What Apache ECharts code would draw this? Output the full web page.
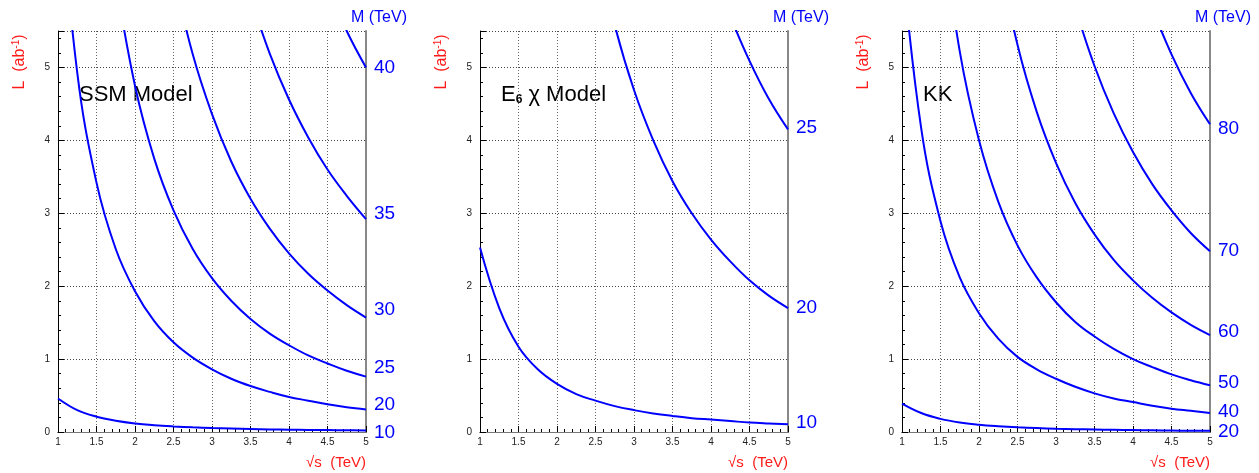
<!DOCTYPE html>
<html>
<head>
<meta charset="utf-8">
<script src="https://cdn.jsdelivr.net/npm/echarts@6/dist/echarts.min.js"></script>
<style>
  html, body { margin: 0; padding: 0; background: #fff; }
  #chart { width: 1259px; height: 473px; }
</style>
</head>
<body>
<div id="chart"></div>
<script>
// sqrt(s) in TeV, same sampling for every curve
const sqrtS = [1, 1.25, 1.5, 1.75, 2, 2.25, 2.5, 2.75, 3, 3.25, 3.5, 3.75, 4, 4.25, 4.5, 4.75, 5];

// luminosity L (ab^-1), one list per mass M (TeV)
// null = far above the top of the frame
const ssmMass = ['10', '20', '25', '30', '35', '40'];
const ssmL10 = [0.46, 0.30, 0.21, 0.155, 0.118, 0.094, 0.077, 0.064, 0.054, 0.047, 0.041, 0.036, 0.032, 0.029, 0.026, 0.024, 0.022];
const ssmL20 = [7.7, 4.93, 3.42, 2.51, 1.93, 1.52, 1.23, 1.02, 0.86, 0.73, 0.63, 0.55, 0.48, 0.43, 0.38, 0.34, 0.31];
const ssmL25 = [null, null, null, 6.2, 4.75, 3.75, 3.04, 2.51, 2.11, 1.80, 1.55, 1.35, 1.19, 1.05, 0.94, 0.84, 0.76];
const ssmL30 = [null, null, null, null, null, null, 6.27, 5.18, 4.36, 3.71, 3.2, 2.79, 2.45, 2.17, 1.94, 1.74, 1.57];
const ssmL35 = [null, null, null, null, null, null, null, null, null, null, 5.96, 5.19, 4.56, 4.04, 3.6, 3.24, 2.92];
const ssmL40 = [null, null, null, null, null, null, null, null, null, null, null, null, null, null, 6.12, 5.5, 5.0];

const e6Mass = ['10', '20', '25'];
const e6L10 = [2.53, 1.70, 1.17, 0.86, 0.66, 0.52, 0.43, 0.355, 0.30, 0.255, 0.22, 0.19, 0.17, 0.15, 0.13, 0.117, 0.106];
const e6L20 = [null, null, null, null, null, null, 6.75, 5.58, 4.69, 4.0, 3.44, 3.0, 2.64, 2.34, 2.08, 1.87, 1.70];
const e6L25 = [null, null, null, null, null, null, null, null, null, null, null, null, null, 5.70, 5.09, 4.57, 4.15];

const kkMass = ['20', '40', '50', '60', '70', '80'];
const kkL20 = [0.39, 0.26, 0.18, 0.13, 0.10, 0.08, 0.065, 0.054, 0.045, 0.039, 0.034, 0.03, 0.026, 0.023, 0.02, 0.018, 0.017];
const kkL40 = [6.5, 4.16, 2.89, 2.12, 1.63, 1.28, 1.03, 0.86, 0.73, 0.62, 0.53, 0.46, 0.41, 0.36, 0.32, 0.29, 0.26];
const kkL50 = [null, null, 7.1, 5.22, 4.0, 3.16, 2.56, 2.12, 1.78, 1.51, 1.31, 1.14, 1.0, 0.89, 0.79, 0.71, 0.64];
const kkL60 = [null, null, null, null, null, 6.56, 5.31, 4.39, 3.69, 3.14, 2.71, 2.36, 2.08, 1.84, 1.64, 1.47, 1.33];
const kkL70 = [null, null, null, null, null, null, null, null, null, 5.82, 5.02, 4.37, 3.84, 3.40, 3.04, 2.73, 2.48];
const kkL80 = [null, null, null, null, null, null, null, null, null, null, null, null, null, 5.81, 5.18, 4.65, 4.22];

// layout
const FONT = "'Liberation Sans', Arial, sans-serif";
const BLUE = '#0000ff';
const RED = '#ff1a1a';
const PANEL_LEFT = [58, 480, 902];
const PLOT_W = 308;
const PLOT_TOP = 31;
const PLOT_H = 401;

const panels = [
  { title: 'SSM Model', mass: ssmMass, curves: [ssmL10, ssmL20, ssmL25, ssmL30, ssmL35, ssmL40], labelDy: [2, -5, -9, -8, -5, 0] },
  { title: 'E{sub|6} χ Model', mass: e6Mass, curves: [e6L10, e6L20, e6L25], labelDy: [-2, 0, -2] },
  { title: 'KK', mass: kkMass, curves: [kkL20, kkL40, kkL50, kkL60, kkL70, kkL80], labelDy: [1, -1, -3, -3, 0, 4] }
];

var grid = [], xAxis = [], yAxis = [], series = [], graphic = [];

panels.forEach(function (p, i) {
  var L = PANEL_LEFT[i];
  grid.push({ left: L, top: PLOT_TOP, width: PLOT_W, height: PLOT_H });

  // bottom axis: labels, ticks, minor ticks and dotted grid
  xAxis.push({
    gridIndex: i, type: 'value', position: 'bottom', min: 1, max: 5, interval: 0.5,
    axisLine: { lineStyle: { color: '#000', width: 1 } },
    axisTick: { inside: true, length: 6, lineStyle: { color: '#000' } },
    minorTick: { show: true, splitNumber: 5, length: 3, lineStyle: { color: '#000' } },
    axisLabel: { margin: 5, fontSize: 10, color: '#222', fontFamily: FONT },
    splitLine: { show: true, lineStyle: { type: [1, 2], color: '#666' } }
  });
  // top frame line
  xAxis.push({
    gridIndex: i, type: 'value', position: 'top', min: 1, max: 5,
    axisLine: { lineStyle: { color: '#777', width: 1 } },
    axisTick: { show: false }, axisLabel: { show: false }, splitLine: { show: false }
  });

  // left axis: labels, major ticks, dotted grid
  yAxis.push({
    gridIndex: i, type: 'value', position: 'left', min: 0, max: 5.5, interval: 1,
    axisLine: { show: true, lineStyle: { color: '#000', width: 1 } },
    axisTick: { show: true, inside: true, length: 6, lineStyle: { color: '#000' } },
    axisLabel: {
      margin: 8, fontSize: 10, color: '#222', fontFamily: FONT,
      formatter: function (v) { return v > 5 ? '' : String(v); }
    },
    splitLine: { show: true, lineStyle: { type: [1, 2], color: '#444' } }
  });
  // left minor ticks every 0.2
  yAxis.push({
    gridIndex: i, type: 'value', position: 'left', min: 0, max: 5.5, interval: 0.2,
    axisLine: { show: false },
    axisTick: { show: true, inside: true, length: 3, lineStyle: { color: '#000' } },
    axisLabel: { show: false }, splitLine: { show: false }
  });
  // right frame line
  yAxis.push({
    gridIndex: i, type: 'value', position: 'right', min: 0, max: 5.5,
    axisLine: { show: true, lineStyle: { color: '#888', width: 2 } },
    axisTick: { show: false }, axisLabel: { show: false }, splitLine: { show: false }
  });

  p.curves.forEach(function (ys, k) {
    series.push({
      type: 'line', name: p.mass[k],
      xAxisIndex: i * 2, yAxisIndex: i * 3,
      data: sqrtS.map(function (x, j) { return [x, ys[j]]; }),
      showSymbol: false, symbol: 'none',
      smooth: 0.4,
      clip: true,
      lineStyle: { color: BLUE, width: 2 },
      itemStyle: { color: BLUE },
      endLabel: {
        show: true, formatter: '{a}', distance: 8, offset: [0, p.labelDy[k]],
        color: BLUE, fontSize: 19, fontFamily: FONT
      }
    });
  });

  // texts around the frame
  graphic.push({
    type: 'text', x: L + 21, y: 95,
    style: {
      text: p.title, fill: '#000', fontSize: 22, fontFamily: FONT,
      align: 'left', verticalAlign: 'middle', textAlign: 'left', textVerticalAlign: 'middle',
      rich: { sub: { fontSize: 12, fontWeight: 'bold', fontFamily: FONT, fill: '#000', padding: [10, 0, 0, 0] } }
    }
  });
  graphic.push({
    type: 'text', x: L + 349, y: 18,
    style: {
      text: 'M (TeV)', fill: BLUE, fontSize: 16, fontFamily: FONT,
      align: 'right', verticalAlign: 'middle', textAlign: 'right', textVerticalAlign: 'middle'
    }
  });
  graphic.push({
    type: 'text', x: L + 308, y: 463,
    style: {
      text: '√s  (TeV)', fill: RED, fontSize: 15, fontFamily: FONT,
      align: 'right', verticalAlign: 'middle', textAlign: 'right', textVerticalAlign: 'middle'
    }
  });
  graphic.push({
    type: 'text', x: L - 38, y: 62, rotation: Math.PI / 2,
    style: {
      text: 'L  (ab{sup|-1})', fill: RED, fontSize: 16, fontFamily: FONT,
      align: 'center', verticalAlign: 'middle', textAlign: 'center', textVerticalAlign: 'middle',
      rich: { sup: { fontSize: 10, fontFamily: FONT, fill: RED, padding: [0, 0, 8, 0] } }
    }
  });
});

var chart = echarts.init(document.getElementById('chart'));
chart.setOption({
  animation: false,
  backgroundColor: '#fff',
  grid: grid,
  xAxis: xAxis,
  yAxis: yAxis,
  series: series,
  graphic: graphic
});
</script>
</body>
</html>
